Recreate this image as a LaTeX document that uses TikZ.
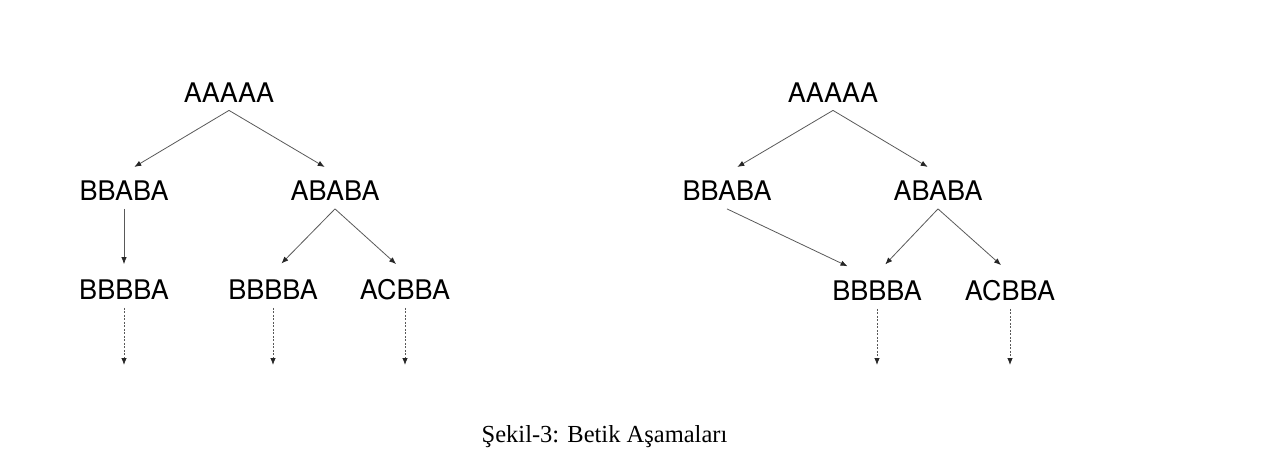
\documentclass[tikz,border=0pt]{standalone}
\usepackage{fontspec}
\setmainfont{Liberation Serif}
\newfontfamily\wordfont{TeX Gyre Heros}
\usetikzlibrary{arrows.meta,positioning}

\begin{document}
\begin{tikzpicture}[x=1pt,y=-1pt,shorten >=12pt,on grid,
                    >={Latex[length=7pt,width=5.5pt,color=black!85]}]
       \tikzstyle{word}=[font=\wordfont\fontsize{27}{27}\selectfont, inner xsep=0pt, inner ysep=8pt, text height=19.4pt, text depth=0pt]
       \tikzstyle{link}=[color=black!65, line width=0.8pt]
       \tikzstyle{later}=[link, dash pattern=on 2pt off 1.5pt, shorten >=0pt]
       \useasboundingbox (0,0) rectangle (1282,458);

       % left tree
       \node[word] (l_0) at (229,92.5) {AAAAA};
       \node[word] (l_1) [below left=98.5pt and 105pt of l_0] {BBABA};
       \node[word] (l_2) [below right=98.5pt and 106pt of l_0] {ABABA};
       \node[word] (l_3) [below=99pt of l_1] {BBBBA};
       \node[word] (l_4) [below left=99pt and 62pt of l_2] {BBBBA};
       \node[word] (l_5) [below right=99pt and 70pt of l_2] {ACBBA};
       \coordinate[below=75pt of l_3] (d_3);
       \coordinate[below=75pt of l_4] (d_4);
       \coordinate[below=75pt of l_5] (d_5);

       \path[->, link]
       (l_0.south) edge (l_1.north)
       (l_0.south) edge (l_2.north)
       (l_1.south) edge [shorten >=8pt] (l_3.north)
       (l_2.south) edge (l_4.north)
       (l_2.south) edge (l_5.north);

       \path[->, later]
       (l_3.south) edge (d_3)
       (l_4.south) edge (d_4)
       (l_5.south) edge (d_5);

       % right tree
       \node[word] (r_0) at (833,92.5) {AAAAA};
       \node[word] (r_1) [below left=98.5pt and 106pt of r_0] {BBABA};
       \node[word] (r_2) [below right=98.5pt and 105pt of r_0] {ABABA};
       \node[word] (r_3) [below left=100pt and 61pt of r_2] {BBBBA};
       \node[word] (r_4) [below right=100pt and 72pt of r_2] {ACBBA};
       \coordinate[below=74pt of r_3] (e_3);
       \coordinate[below=74pt of r_4] (e_4);

       \path[->, link]
       (r_0.south) edge (r_1.north)
       (r_0.south) edge (r_2.north)
       (r_1.south) edge [shorten >=16pt] (r_3.130)
       (r_2.south) edge (r_3.north)
       (r_2.south) edge (r_4.north);

       \path[->, later]
       (r_3.south) edge (e_3)
       (r_4.south) edge (e_4);

       \node[font=\fontsize{24.5}{24.5}\selectfont, anchor=base] (caption) at (604.5,442) {Şekil-3: Betik Aşamaları};
\end{tikzpicture}
\end{document}
